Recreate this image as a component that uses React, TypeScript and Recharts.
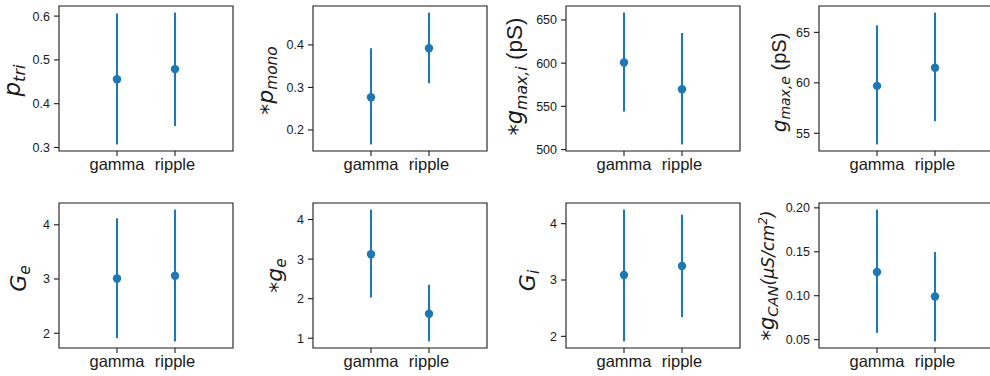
import React from 'react';
import { ScatterChart, Scatter, XAxis, YAxis, ErrorBar, ReferenceArea, Label } from 'recharts';

// ---- data ----
const categories = ['gamma', 'ripple'];

const pTriMean = [0.456, 0.479];
const pTriLow = [0.307, 0.349];
const pTriHigh = [0.606, 0.608];
const pTriTicks = [0.3, 0.4, 0.5, 0.6];

const pMonoMean = [0.277, 0.392];
const pMonoLow = [0.166, 0.31];
const pMonoHigh = [0.392, 0.476];
const pMonoTicks = [0.2, 0.3, 0.4];

const gMaxIMean = [600.8, 569.8];
const gMaxILow = [544, 506];
const gMaxIHigh = [658.5, 634.9];
const gMaxITicks = [500, 550, 600, 650];

const gMaxEMean = [59.7, 61.5];
const gMaxELow = [53.9, 56.2];
const gMaxEHigh = [65.7, 66.96];
const gMaxETicks = [55, 60, 65];

const GeMean = [3.01, 3.06];
const GeLow = [1.91, 1.85];
const GeHigh = [4.12, 4.28];
const GeTicks = [2, 3, 4];

const geMean = [3.12, 1.62];
const geLow = [2.03, 0.92];
const geHigh = [4.25, 2.35];
const geTicks = [1, 2, 3, 4];

const GiMean = [3.09, 3.25];
const GiLow = [1.91, 2.34];
const GiHigh = [4.25, 4.16];
const GiTicks = [2, 3, 4];

const gCanMean = [0.127, 0.0992];
const gCanLow = [0.0578, 0.048];
const gCanHigh = [0.198, 0.1498];
const gCanTicks = [0.05, 0.1, 0.15, 0.2];

// math: m = math italic, s = math symbol (upright DejaVu), t = plain text (sans)
type Part = { t: string; k: 'm' | 's' | 't'; v?: 'sub' | 'sup' | 'ast'; sz?: number };

const panels = [
  { mean: pTriMean, low: pTriLow, high: pTriHigh, ticks: pTriTicks, dec: 1, fs: 23,
    label: [{ t: 'p', k: 'm' }, { t: 'tri', k: 'm', v: 'sub' }] as Part[], left: 59, top: 6, labelDx: 39, labelDy: 2 },
  { mean: pMonoMean, low: pMonoLow, high: pMonoHigh, ticks: pMonoTicks, dec: 1, fs: 22,
    label: [{ t: '*', k: 's', v: 'ast' }, { t: 'p', k: 'm' }, { t: 'mono', k: 'm', v: 'sub' }] as Part[], left: 313, top: 6, labelDx: 40, labelDy: 2 },
  { mean: gMaxIMean, low: gMaxILow, high: gMaxIHigh, ticks: gMaxITicks, dec: 0, fs: 22.5,
    label: [{ t: '*', k: 's', v: 'ast' }, { t: 'g', k: 'm' }, { t: 'max,i', k: 'm', v: 'sub' }, { t: ' (pS)', k: 't' }] as Part[], left: 566, top: 6, labelDx: 44, labelDy: -2 },
  { mean: gMaxEMean, low: gMaxELow, high: gMaxEHigh, ticks: gMaxETicks, dec: 0, fs: 20,
    label: [{ t: 'g', k: 'm' }, { t: 'max,e', k: 'm', v: 'sub' }, { t: ' (pS)', k: 't' }] as Part[], left: 819, top: 6, labelDx: 33, labelDy: 4 },
  { mean: GeMean, low: GeLow, high: GeHigh, ticks: GeTicks, dec: 0, fs: 22,
    label: [{ t: 'G', k: 'm' }, { t: 'e', k: 'm', v: 'sub' }] as Part[], left: 59, top: 203, labelDx: 33, labelDy: 3 },
  { mean: geMean, low: geLow, high: geHigh, ticks: geTicks, dec: 0, fs: 22,
    label: [{ t: '*', k: 's', v: 'ast' }, { t: 'g', k: 'm' }, { t: 'e', k: 'm', v: 'sub' }] as Part[], left: 313, top: 203, labelDx: 31, labelDy: 0 },
  { mean: GiMean, low: GiLow, high: GiHigh, ticks: GiTicks, dec: 0, fs: 22,
    label: [{ t: 'G', k: 'm' }, { t: 'i', k: 'm', v: 'sub' }] as Part[], left: 566, top: 203, labelDx: 31, labelDy: 5 },
  { mean: gCanMean, low: gCanLow, high: gCanHigh, ticks: gCanTicks, dec: 2, fs: 21,
    label: [
      { t: '*', k: 's', v: 'ast' },
      { t: 'g', k: 'm' },
      { t: 'CAN', k: 'm', v: 'sub' },
      { t: '(μS/cm', k: 'm', sz: 0.82 },
      { t: '2', k: 'm', v: 'sup', sz: 0.82 },
      { t: ')', k: 'm', sz: 0.82 },
    ] as Part[], left: 819, top: 203, labelDx: 45, labelDy: 0 },
];

// ---- layout ----
const PW = 174;
const PH = 145;
const YW = 66;
const MT = 10;
const MR = 6;
const XH = 32;
const MATH_FONT = 'DejaVu Sans';
const FONT = 'Liberation Sans, Arial, sans-serif';
const TXT = '#1a1a1a';
const BLUE = '#1f77b4';

function renderParts(parts: Part[], F: number) {
  let cur = 0;
  return parts.map((p, i) => {
    const eff = F * (p.sz || 1);
    const target =
      p.v === 'sub' ? 0.2 * eff : p.v === 'sup' ? -0.4 * eff : p.v === 'ast' ? 0.13 * eff : 0;
    const dy = target - cur;
    cur = target;
    const small = p.v === 'sub' || p.v === 'sup';
    return (
      <tspan
        key={i}
        dy={dy}
        fontSize={small ? 0.7 * eff : eff}
        fontStyle={p.k === 'm' ? 'italic' : 'normal'}
        fontFamily={p.k === 't' ? FONT : MATH_FONT}
      >
        {p.t}
      </tspan>
    );
  });
}

function Panel({ p }: { p: any }) {
  const data = categories.map((c, i) => ({
    name: c,
    x: i,
    y: p.mean[i],
    err: [p.mean[i] - p.low[i], p.high[i] - p.mean[i]],
  }));
  const lo = Math.min(...p.low);
  const hi = Math.max(...p.high);
  const m = (hi - lo) * 0.05;
  const domain = [lo - m, hi + m];
  const bx = YW - p.labelDx;
  const cy = MT + PH / 2 + p.labelDy;
  return (
    <div style={{ position: 'absolute', left: p.left - YW, top: p.top - MT }}>
      <ScatterChart width={YW + PW + MR} height={MT + PH + XH} margin={{ top: MT, right: MR, bottom: 0, left: 0 }}>
        <XAxis
          type="number"
          dataKey="x"
          domain={[-1, 2]}
          ticks={[0, 1]}
          interval={0}
          allowDataOverflow
          height={XH}
          axisLine={false}
          tickSize={5}
          tickMargin={2}
          tickLine={{ stroke: TXT, strokeWidth: 1.1 }}
          tick={{ fontSize: 16.5, fill: TXT, fontFamily: FONT }}
          tickFormatter={(v: number) => categories[v]}
        />
        <YAxis
          type="number"
          dataKey="y"
          domain={domain}
          ticks={p.ticks}
          interval={0}
          allowDataOverflow
          width={YW}
          axisLine={false}
          tickSize={5}
          tickMargin={4}
          tickLine={{ stroke: TXT, strokeWidth: 1.1 }}
          tick={{ fontSize: 12.5, fill: TXT, fontFamily: FONT }}
          tickFormatter={(v: number) => v.toFixed(p.dec)}
        >
          <Label
            content={() => (
              <text
                transform={`translate(${bx},${cy}) rotate(-90)`}
                textAnchor="middle"
                fill={TXT}
                style={{ whiteSpace: 'pre' }}
              >
                {renderParts(p.label, p.fs)}
              </text>
            )}
          />
        </YAxis>
        <ReferenceArea
          x1={-1}
          x2={2}
          y1={domain[0]}
          y2={domain[1]}
          fill="none"
          fillOpacity={0}
          stroke={TXT}
          strokeWidth={1.1}
          ifOverflow="visible"
        />
        <Scatter
          data={data}
          fill={BLUE}
          isAnimationActive={false}
          shape={(props: any) => <circle cx={props.cx} cy={props.cy} r={4.2} fill={BLUE} />}
        >
          <ErrorBar dataKey="err" direction="y" width={0} stroke={BLUE} strokeWidth={2.1} isAnimationActive={false} />
        </Scatter>
      </ScatterChart>
    </div>
  );
}

export default function App() {
  return (
    <div
      style={{
        position: 'absolute',
        left: 0,
        top: 0,
        width: 990,
        height: 376,
        overflow: 'hidden',
        background: '#fff',
      }}
    >
      {panels.map((p, i) => (
        <Panel key={i} p={p} />
      ))}
    </div>
  );
}
